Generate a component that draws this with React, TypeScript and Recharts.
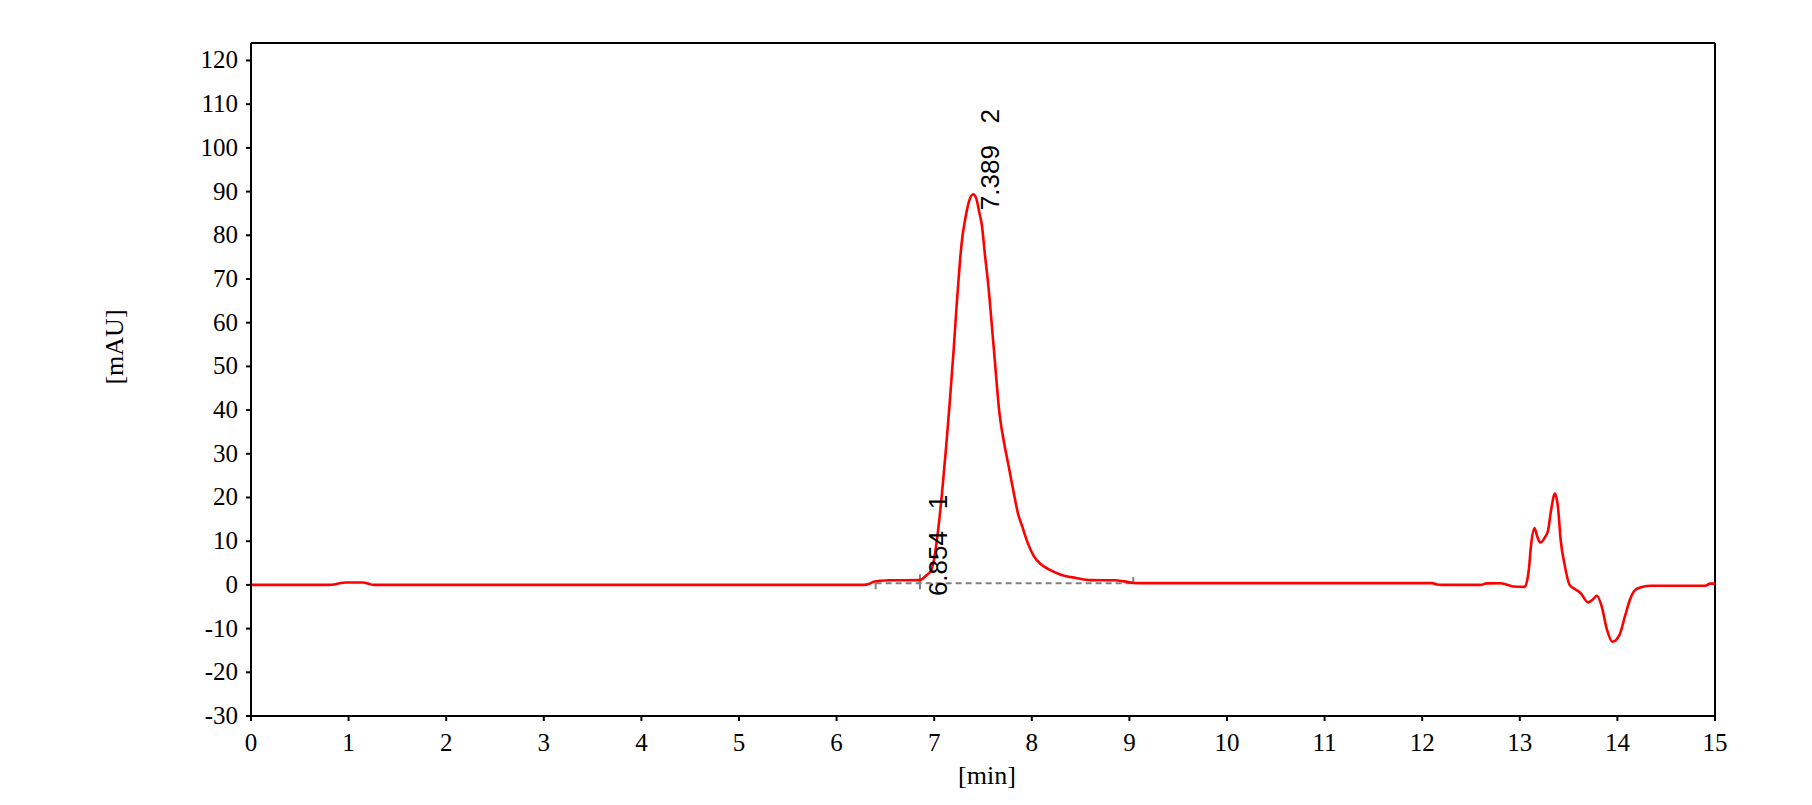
import React from 'react'
import {
  LineChart,
  Line,
  XAxis,
  YAxis,
  ReferenceLine,
  ReferenceDot,
} from 'recharts'

// retention time [min] and absorbance [mAU]
const times = [
  0, 0.8, 0.85, 0.92, 0.97, 1.15, 1.2, 1.25, 2, 3, 4, 5, 6, 6.28, 6.33, 6.38,
  6.45, 6.55, 6.85, 6.92, 6.97, 7.0, 7.04, 7.08, 7.12, 7.16, 7.2, 7.23, 7.25,
  7.28, 7.32, 7.36, 7.4, 7.43, 7.46, 7.49, 7.52, 7.55, 7.61, 7.67, 7.72, 7.76,
  7.82, 7.86, 7.9, 7.96, 8.02, 8.1, 8.18, 8.29, 8.45, 8.6, 8.85, 8.95, 9.04,
  9.2, 10, 11, 12.1, 12.15, 12.2, 12.6, 12.66, 12.8, 12.86, 12.93, 13.05,
  13.09, 13.12, 13.15, 13.18, 13.21, 13.26, 13.29, 13.32, 13.36, 13.39, 13.42,
  13.46, 13.51, 13.56, 13.62, 13.7, 13.75, 13.79, 13.84, 13.89, 13.95, 14.02,
  14.08, 14.13, 14.18, 14.25, 14.35, 14.9, 14.95, 15,
]
const mAU = [
  0, 0, 0.1, 0.45, 0.55, 0.55, 0.3, 0, 0, 0, 0, 0, 0, 0, 0.2, 0.7,
  0.95, 1.05, 1.1, 2.2, 3.4, 6, 12.5, 21, 31, 42, 54, 64, 70,
  78, 84, 88, 89.4, 88.5, 85.5, 82, 75.5, 69.5, 54.3, 39, 32, 27.5,
  20.5, 16.2, 13.5, 9.5, 6.6, 4.6, 3.5, 2.4, 1.6, 1.1, 1.05, 0.8, 0.45,
  0.4, 0.4, 0.4, 0.4, 0.1, 0, 0, 0.35, 0.38, 0.1, -0.35, -0.45,
  3, 10, 13, 11, 9.7, 11, 12.5, 17, 20.9, 18, 10,
  4.5, 0, -0.9, -1.8, -4, -3.3, -2.5, -5, -10, -13, -11.5,
  -7, -3.3, -1.2, -0.5, -0.2, -0.2, 0.3, 0.3,
]

// integrated peaks
const peakTimes = [6.854, 7.389]
const peakHeights = [1.1, 89.4]
const peakNumbers = ['1', '2']

// integration baseline and boundary marks
const baseStart = 6.4
const baseEnd = 9.04
const baseLevel = 0.4
const markTimes = [6.4, 6.854, 9.04]
const markLow = [-1.0, -1.0, 0.2]
const markHigh = [0.4, 2.4, 1.8]

const xTicks = [0, 1, 2, 3, 4, 5, 6, 7, 8, 9, 10, 11, 12, 13, 14, 15]
const yTicks = [-30, -20, -10, 0, 10, 20, 30, 40, 50, 60, 70, 80, 90, 100, 110, 120]
const xMax = 15
const yMin = -30
const yMax = 124

const data = times.map((t, i) => ({ t, v: mAU[i] }))

const serif = 'Liberation Serif, Times New Roman, serif'
const sans = 'Liberation Sans, Arial, sans-serif'

function XTick(props: any) {
  const { x, y, payload } = props
  return (
    <text x={x} y={y + 30} textAnchor="middle" fontFamily={serif} fontSize={25} fill="#000">
      {payload.value}
    </text>
  )
}

function YTick(props: any) {
  const { x, y, payload } = props
  return (
    <text x={x} y={y + 8} textAnchor="end" fontFamily={serif} fontSize={25} fill="#000">
      {payload.value}
    </text>
  )
}

function PeakLabel(props: any) {
  const { cx, cy, text } = props
  const x = cx + 27
  const y = cy + 16
  return (
    <text
      x={x}
      y={y}
      transform={`rotate(-90, ${x}, ${y})`}
      fontFamily={sans}
      fontSize={26}
      fill="#000"
      xmlSpace="preserve"
      style={{ whiteSpace: 'pre' }}
    >
      {text}
    </text>
  )
}

export default function App() {
  return (
    <div style={{ width: 1796, height: 789, background: '#fff' }}>
      <LineChart
        width={1796}
        height={789}
        data={data}
        margin={{ top: 35, right: 89, bottom: 0, left: 0 }}
      >
        <XAxis
          dataKey="t"
          type="number"
          domain={[0, xMax]}
          ticks={xTicks}
          height={81}
          tickSize={5}
          tickMargin={0}
          axisLine={{ stroke: '#000', strokeWidth: 2 }}
          tickLine={{ stroke: '#000', strokeWidth: 2 }}
          tick={<XTick />}
          label={{
            content: () => (
              <text x={979} y={776} textAnchor="middle" fontFamily={serif} fontSize={26} fill="#000">
                [min]
              </text>
            ),
          }}
        />
        <YAxis
          type="number"
          domain={[yMin, yMax]}
          ticks={yTicks}
          width={243}
          tickSize={5}
          tickMargin={8}
          axisLine={{ stroke: '#000', strokeWidth: 2 }}
          tickLine={{ stroke: '#000', strokeWidth: 2 }}
          tick={<YTick />}
          allowDataOverflow
          label={{
            content: () => (
              <text
                x={115}
                y={339}
                transform="rotate(-90, 115, 339)"
                textAnchor="middle"
                fontFamily={serif}
                fontSize={26}
                fill="#000"
              >
                [mAU]
              </text>
            ),
          }}
        />
        {/* frame: top and right edges of the plot box */}
        <ReferenceLine y={yMax} stroke="#000" strokeWidth={2} ifOverflow="visible" />
        <ReferenceLine x={xMax} stroke="#000" strokeWidth={2} ifOverflow="visible" />
        <ReferenceLine
          segment={[
            { x: baseStart, y: baseLevel },
            { x: baseEnd, y: baseLevel },
          ]}
          stroke="#808080"
          strokeWidth={2}
          strokeDasharray="6 4"
        />
        {markTimes.map((t, i) => (
          <ReferenceLine
            key={`mark-${i}`}
            segment={[
              { x: t, y: markLow[i] },
              { x: t, y: markHigh[i] },
            ]}
            stroke="#808080"
            strokeWidth={2}
          />
        ))}
        <Line
          type="monotone"
          dataKey="v"
          stroke="#ff0000"
          strokeWidth={2.6}
          dot={false}
          activeDot={false}
          isAnimationActive={false}
        />
        {peakTimes.map((t, i) => (
          <ReferenceDot
            key={`peak-${i}`}
            x={t}
            y={peakHeights[i]}
            r={0}
            shape={(p: any) => (
              <PeakLabel {...p} text={`${t.toFixed(3)}   ${peakNumbers[i]}`} />
            )}
          />
        ))}
      </LineChart>
    </div>
  )
}
